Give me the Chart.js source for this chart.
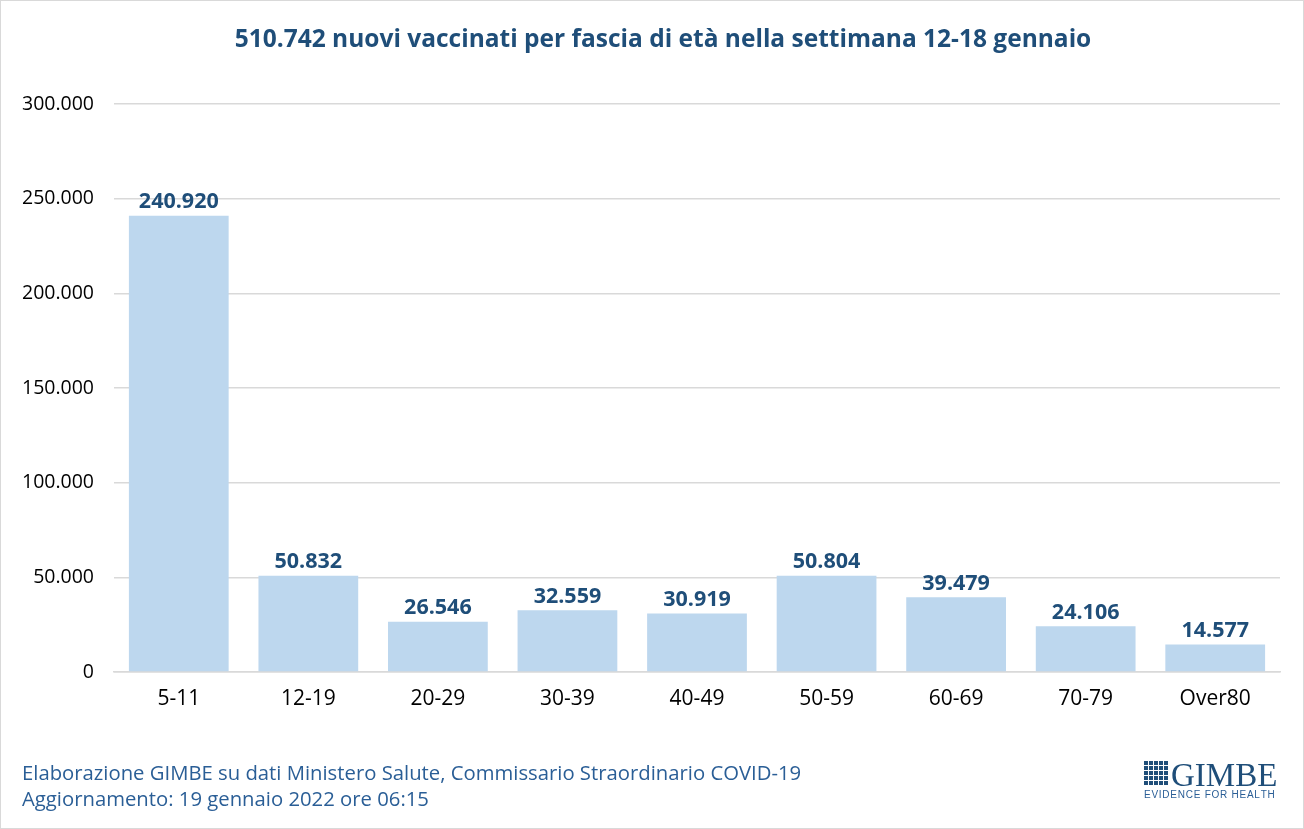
<!DOCTYPE html>
<html lang="it">
<head>
<meta charset="UTF-8">
<title>Nuovi vaccinati per fascia di età</title>
<style>
  html, body { margin: 0; padding: 0; background: #fff; }
  #wrap { width: 1304px; height: 829px; position: relative; }
</style>
</head>
<body>
<div id="wrap"><canvas id="chart" width="1304" height="829"></canvas></div>
<script src="https://cdn.jsdelivr.net/npm/chart.js"></script>
<script>
const fasce = ['5-11', '12-19', '20-29', '30-39', '40-49', '50-59', '60-69', '70-79', 'Over80'];
const vaccinati = [240920, 50832, 26546, 32559, 30919, 50804, 39479, 24106, 14577];
const yTicks = [0, 50000, 100000, 150000, 200000, 250000, 300000];

const titolo = '510.742 nuovi vaccinati per fascia di età nella settimana 12-18 gennaio';
const nota1 = 'Elaborazione GIMBE su dati Ministero Salute, Commissario Straordinario COVID-19';
const nota2 = 'Aggiornamento: 19 gennaio 2022 ore 06:15';

const blu = '#1F4E79';
const font = '"Open Sans", Lato, sans-serif';

// numeri con il punto come separatore delle migliaia
function fmt(n) {
    return String(n).replace(/\B(?=(\d{3})+(?!\d))/g, '.');
}

// etichette sopra le barre
const valueLabels = {
    id: 'valueLabels',
    afterDatasetsDraw(chart) {
        const ctx = chart.ctx;
        const meta = chart.getDatasetMeta(0);
        ctx.save();
        ctx.font = 'bold 21.5px ' + font;
        ctx.fillStyle = blu;
        ctx.textAlign = 'center';
        ctx.textBaseline = 'bottom';
        meta.data.forEach((bar, i) => {
            ctx.fillText(fmt(vaccinati[i]), bar.x, bar.y - 3);
        });
        ctx.restore();
    }
};

// titolo, note in basso, logo e cornice
const extras = {
    id: 'extras',
    afterDraw(chart) {
        const ctx = chart.ctx;
        ctx.save();
        ctx.strokeStyle = '#D9D9D9';
        ctx.lineWidth = 1;
        ctx.strokeRect(0.5, 0.5, 1303, 828);

        ctx.font = 'bold 24.5px ' + font;
        ctx.fillStyle = blu;
        ctx.textAlign = 'center';
        ctx.textBaseline = 'middle';
        ctx.fillText(titolo, 663, 40);

        ctx.font = '20.3px ' + font;
        ctx.fillStyle = '#2A5E96';
        ctx.textAlign = 'left';
        ctx.textBaseline = 'alphabetic';
        ctx.fillText(nota1, 22, 780);
        ctx.fillText(nota2, 22, 806);

        // logo GIMBE
        const lx = 1144, ly = 761;
        ctx.fillStyle = blu;
        for (let r = 0; r < 5; r++) {
            for (let c = 0; c < 5; c++) {
                ctx.fillRect(lx + c * 5, ly + r * 5, 4, 4);
            }
        }
        ctx.font = '33px "Liberation Serif", "DejaVu Serif", serif';
        ctx.fillText('GIMBE', 1171, 786);
        // riga "EVIDENCE FOR HEALTH" distribuita su 130px
        const tag = 'EVIDENCE FOR HEALTH';
        ctx.font = '10px "Liberation Sans", sans-serif';
        ctx.fillStyle = '#2A5E96';
        const plain = ctx.measureText(tag).width;
        const gap = (130 - plain) / (tag.length - 1);
        let x = 1144;
        for (const ch of tag) {
            ctx.fillText(ch, x, 798);
            x += ctx.measureText(ch).width + gap;
        }
        ctx.restore();
    }
};

new Chart(document.getElementById('chart'), {
    type: 'bar',
    data: {
        labels: fasce,
        datasets: [{
            data: vaccinati,
            backgroundColor: '#BDD7EE',
            categoryPercentage: 0.77,
            barPercentage: 1.0
        }]
    },
    options: {
        responsive: false,
        animation: false,
        layout: { padding: { top: 104, left: 0, right: 24, bottom: 107 } },
        plugins: {
            legend: { display: false },
            tooltip: { enabled: false },
            title: { display: false }
        },
        scales: {
            x: {
                grid: { display: false, drawTicks: false },
                border: { color: '#D9D9D9', width: 1.5 },
                ticks: { color: '#000', font: { family: font, size: 21 }, padding: 14 },
                afterFit(scale) { scale.height = 50; }
            },
            y: {
                min: 0,
                max: 300000,
                afterBuildTicks(scale) { scale.ticks = yTicks.map(v => ({ value: v })); },
                grid: { color: '#D9D9D9', lineWidth: 1.5, drawTicks: false },
                border: { display: false },
                ticks: {
                    color: '#000',
                    font: { family: font, size: 19.5 },
                    padding: 20,
                    callback: v => fmt(v)
                },
                afterFit(scale) { scale.width = 114; }
            }
        }
    },
    plugins: [valueLabels, extras]
});
</script>
</body>
</html>
